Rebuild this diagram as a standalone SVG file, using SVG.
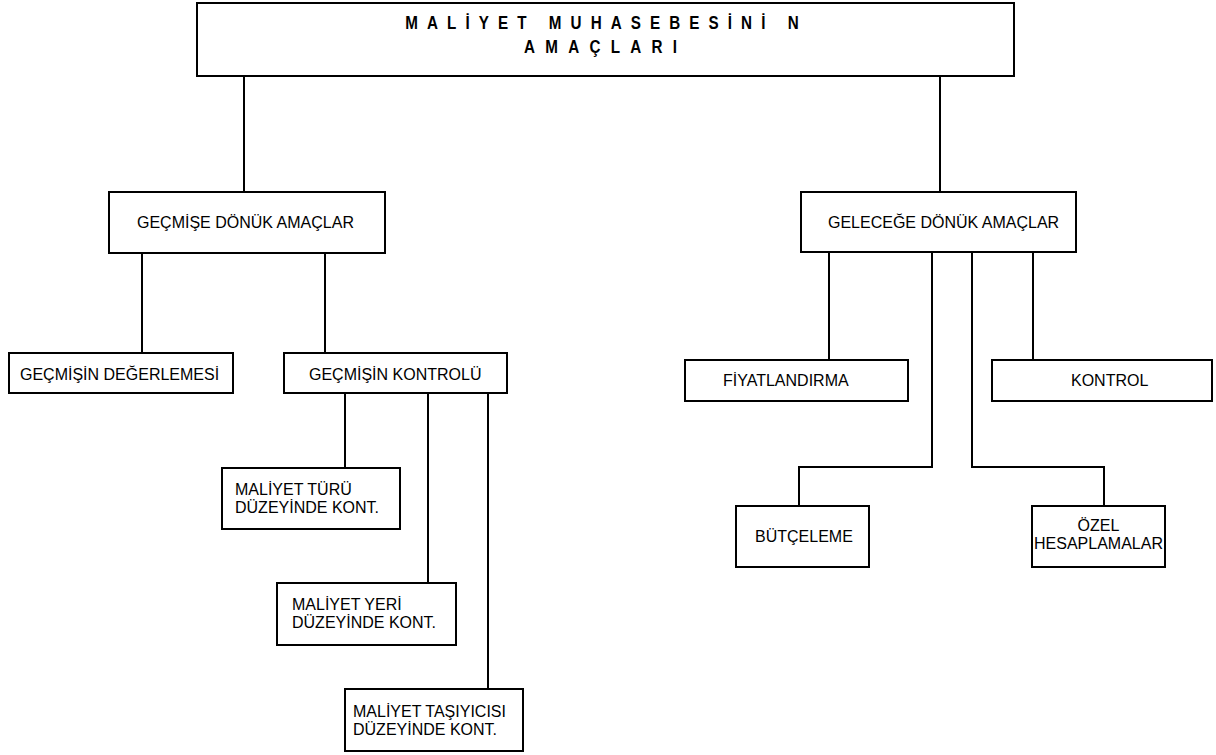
<svg xmlns="http://www.w3.org/2000/svg" width="1216" height="755" viewBox="0 0 1216 755">
  <style>
    .box { fill: #ffffff; stroke: #000000; stroke-width: 2; }
    .lbl { font-family: "Liberation Sans", Arial, sans-serif; font-size: 16px; fill: #000000; }
    .mid { text-anchor: middle; }
    .title { font-family: "Liberation Sans", Arial, sans-serif; font-size: 19px; font-weight: bold; fill: #000000; text-anchor: middle; }
    .conn { fill: none; stroke: #000000; stroke-width: 2; }
  </style>
  <rect width="1216" height="755" fill="#ffffff"/>

  <g id="connectors">
    <line class="conn" x1="244" y1="76" x2="244" y2="192"/>
    <line class="conn" x1="940" y1="76" x2="940" y2="192"/>
    <line class="conn" x1="142" y1="253" x2="142" y2="353"/>
    <line class="conn" x1="325" y1="253" x2="325" y2="353"/>
    <line class="conn" x1="345" y1="393" x2="345" y2="468"/>
    <line class="conn" x1="428" y1="393" x2="428" y2="583"/>
    <line class="conn" x1="488" y1="393" x2="488" y2="689"/>
    <line class="conn" x1="829" y1="252" x2="829" y2="360"/>
    <line class="conn" x1="1033" y1="252" x2="1033" y2="360"/>
    <polyline class="conn" points="932,252 932,467 799,467 799,506"/>
    <polyline class="conn" points="972,252 972,467 1104,467 1104,506"/>
  </g>

  <g id="title">
    <rect class="box" x="197" y="3" width="817" height="73"/>
    <text class="title" transform="translate(602 29) scale(0.8 1)" textLength="492" lengthAdjust="spacing">MALİYET MUHASEBESİNİ N</text>
    <text class="title" transform="translate(600.5 53) scale(0.8 1)" textLength="191" lengthAdjust="spacing">AMAÇLARI</text>
  </g>

  <g id="gecmise">
    <rect class="box" x="109" y="192" width="276" height="61"/>
    <text class="lbl" x="137" y="228">GEÇMİŞE DÖNÜK AMAÇLAR</text>
  </g>

  <g id="gelecege">
    <rect class="box" x="801" y="192" width="275" height="60"/>
    <text class="lbl" x="828" y="228">GELECEĞE DÖNÜK AMAÇLAR</text>
  </g>

  <g id="degerleme">
    <rect class="box" x="9" y="353" width="224" height="40"/>
    <text class="lbl" x="20" y="380">GEÇMİŞİN DEĞERLEMESİ</text>
  </g>

  <g id="kontrolu">
    <rect class="box" x="284" y="353" width="223" height="40"/>
    <text class="lbl" x="309" y="380">GEÇMİŞİN KONTROLÜ</text>
  </g>

  <g id="turu">
    <rect class="box" x="222" y="468" width="178" height="61"/>
    <text class="lbl" x="235" y="495">MALİYET TÜRÜ</text>
    <text class="lbl" x="235" y="513">DÜZEYİNDE KONT.</text>
  </g>

  <g id="yeri">
    <rect class="box" x="277" y="583" width="179" height="62"/>
    <text class="lbl" x="292" y="610">MALİYET YERİ</text>
    <text class="lbl" x="292" y="628">DÜZEYİNDE KONT.</text>
  </g>

  <g id="tasiyici">
    <rect class="box" x="345" y="689" width="178" height="62"/>
    <text class="lbl" x="353" y="717">MALİYET TAŞIYICISI</text>
    <text class="lbl" x="353" y="735">DÜZEYİNDE KONT.</text>
  </g>

  <g id="fiyat">
    <rect class="box" x="685" y="360" width="223" height="41"/>
    <text class="lbl" x="723" y="386">FİYATLANDIRMA</text>
  </g>

  <g id="kontrol">
    <rect class="box" x="992" y="360" width="220" height="41"/>
    <text class="lbl" x="1071" y="386">KONTROL</text>
  </g>

  <g id="butceleme">
    <rect class="box" x="736" y="506" width="133" height="61"/>
    <text class="lbl" x="755" y="542">BÜTÇELEME</text>
  </g>

  <g id="ozel">
    <rect class="box" x="1032" y="506" width="133" height="61"/>
    <text class="lbl mid" x="1098.5" y="531">ÖZEL</text>
    <text class="lbl mid" x="1098.5" y="549">HESAPLAMALAR</text>
  </g>
</svg>
